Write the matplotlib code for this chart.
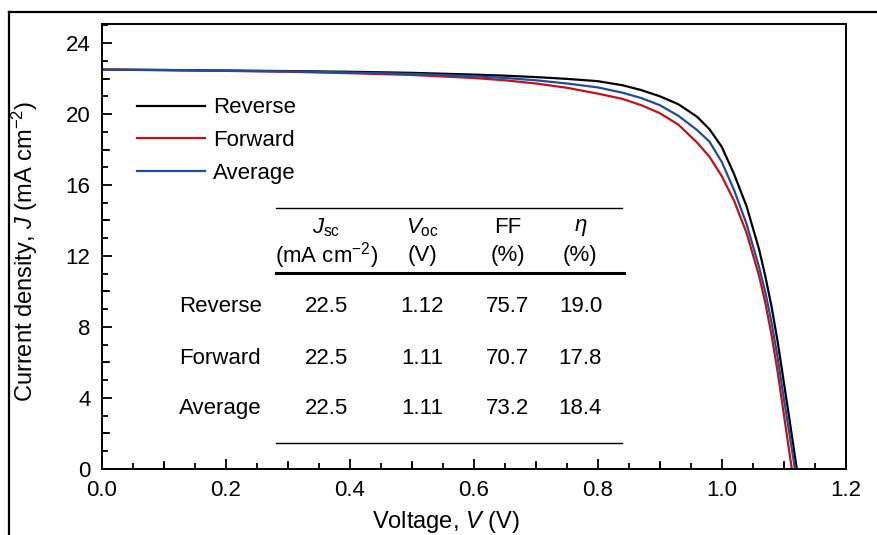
import numpy as np
import matplotlib.pyplot as plt
from matplotlib.lines import Line2D
from matplotlib.ticker import MultipleLocator

plt.rcParams['font.family'] = ['Liberation Sans', 'DejaVu Sans']
plt.rcParams['mathtext.fontset'] = 'custom'
plt.rcParams['mathtext.rm'] = 'Liberation Sans'
plt.rcParams['mathtext.it'] = 'Liberation Sans:italic'

# J-V sweeps (V in volts, J in mA cm-2)
v_rev = [0, 0.1, 0.2, 0.3, 0.4, 0.5, 0.6, 0.65, 0.7, 0.75, 0.8, 0.84, 0.87, 0.9, 0.93,
         0.96, 0.98, 1.0, 1.02, 1.04, 1.06, 1.07, 1.08, 1.09, 1.10, 1.11, 1.121]
j_rev = [22.5, 22.48, 22.45, 22.42, 22.38, 22.32, 22.22, 22.16, 22.08, 21.98, 21.85,
         21.62, 21.35, 21.0, 20.55, 19.85, 19.15, 18.15, 16.6, 14.8, 12.4, 10.9,
         9.2, 7.2, 4.9, 2.6, 0.0]

v_fwd = [0, 0.1, 0.2, 0.3, 0.4, 0.5, 0.6, 0.65, 0.7, 0.75, 0.8, 0.84, 0.87, 0.9, 0.93,
         0.96, 0.98, 1.0, 1.02, 1.04, 1.06, 1.07, 1.08, 1.09, 1.10, 1.113]
j_fwd = [22.5, 22.47, 22.43, 22.38, 22.3, 22.2, 22.03, 21.9, 21.72, 21.48, 21.15,
         20.85, 20.5, 20.05, 19.4, 18.4, 17.6, 16.5, 15.1, 13.3, 10.9, 9.4, 7.6,
         5.5, 3.1, 0.0]

v_avg = [0, 0.1, 0.2, 0.3, 0.4, 0.5, 0.6, 0.65, 0.7, 0.75, 0.8, 0.84, 0.87, 0.9, 0.93,
         0.96, 0.98, 1.0, 1.02, 1.04, 1.06, 1.07, 1.08, 1.09, 1.10, 1.11, 1.118]
j_avg = [22.5, 22.48, 22.44, 22.4, 22.34, 22.26, 22.13, 22.03, 21.9, 21.72, 21.5,
         21.2, 20.9, 20.5, 19.9, 19.1, 18.45, 17.3, 15.7, 13.8, 11.4, 10.0, 8.3,
         6.3, 4.0, 1.8, 0.0]

# summary table
row_names = ['Reverse', 'Forward', 'Average']
jsc = ['22.5', '22.5', '22.5']
voc = ['1.12', '1.11', '1.11']
ff = ['75.7', '70.7', '73.2']
eta = ['19.0', '17.8', '18.4']

fs = 16

fig = plt.figure(figsize=(8.77, 5.35), dpi=100)
ax = fig.add_axes([0.116, 0.1234, 0.8484, 0.8317])

ax.plot(v_rev, j_rev, color='black', lw=1.6, label='Reverse')
ax.plot(v_fwd, j_fwd, color='#c41018', lw=1.6, label='Forward')
ax.plot(v_avg, j_avg, color='#1c4e9e', lw=1.6, label='Average')

ax.set_xlim(0, 1.2)
ax.set_ylim(0, 25.07)
ax.set_xticks(np.arange(0, 1.21, 0.2))
ax.set_xticklabels(['0.0', '0.2', '0.4', '0.6', '0.8', '1.0', '1.2'])
ax.set_yticks(np.arange(0, 25, 4))
ax.xaxis.set_minor_locator(MultipleLocator(0.05))
ax.yaxis.set_minor_locator(MultipleLocator(1))
ax.tick_params(which='both', direction='in', width=1.3, labelsize=fs)
ax.tick_params(which='major', length=7, pad=8)
ax.tick_params(which='minor', length=4)
# longer ticks at every 0.1 V and every 2 mA cm-2
for xv in np.arange(0.1, 1.2, 0.2):
    ax.plot([xv, xv], [0, 0.39], color='black', lw=1.3, clip_on=False)
for yv in np.arange(2, 25, 4):
    ax.plot([0, 0.0113], [yv, yv], color='black', lw=1.3, clip_on=False)
for s in ax.spines.values():
    s.set_linewidth(1.4)

ax.set_xlabel('Voltage, $V$ (V)', fontsize=fs + 1)
ax.xaxis.set_label_coords(0.463, -0.09)
ax.set_ylabel('Current density, $J$ (mA cm$^{-2}$)', fontsize=fs + 1)
ax.yaxis.set_label_coords(-0.083, 0.49)

handles = ax.get_lines()[:3]
ax.legend(handles=handles, loc='upper left', bbox_to_anchor=(0.0474, 0.835),
          frameon=False, fontsize=fs, handlelength=3.05, handletextpad=0.36,
          labelspacing=0.53, borderaxespad=0, borderpad=0)

# table
x_name, x_cols = 0.191, [0.362, 0.517, 0.655, 0.772]
ax.plot([0.281, 0.839], [14.7, 14.7], color='black', lw=1.0)
ax.plot([0.281, 0.843], [11.04, 11.04], color='black', lw=2.2)
ax.plot([0.281, 0.839], [1.46, 1.46], color='black', lw=1.0)
heads = ['$J_{\\mathrm{sc}}$', '$V_{\\mathrm{oc}}$', 'FF', '$\\eta$']
units = ['(mA cm$^{-2}$)', '(V)', '(%)', '(%)']
for xc, h, u in zip(x_cols, heads, units):
    ax.text(xc, 13.6, h, ha='center', va='center', fontsize=fs)
    ax.text(xc, 12.05, u, ha='center', va='center', fontsize=fs)
for yr, name, a, b, c, d in zip([9.13, 6.25, 3.38], row_names, jsc, voc, ff, eta):
    ax.text(x_name, yr, name, ha='center', va='center', fontsize=fs)
    for xc, val in zip(x_cols, [a, b, c, d]):
        ax.text(xc, yr, val, ha='center', va='center', fontsize=fs)

# outer frame on top and left
fig.add_artist(Line2D([9 / 877, 1], [1 - 12 / 535, 1 - 12 / 535], color='black', lw=1.6))
fig.add_artist(Line2D([9 / 877, 9 / 877], [0, 1 - 12 / 535], color='black', lw=1.6))

fig.savefig('out.png', dpi=100)
